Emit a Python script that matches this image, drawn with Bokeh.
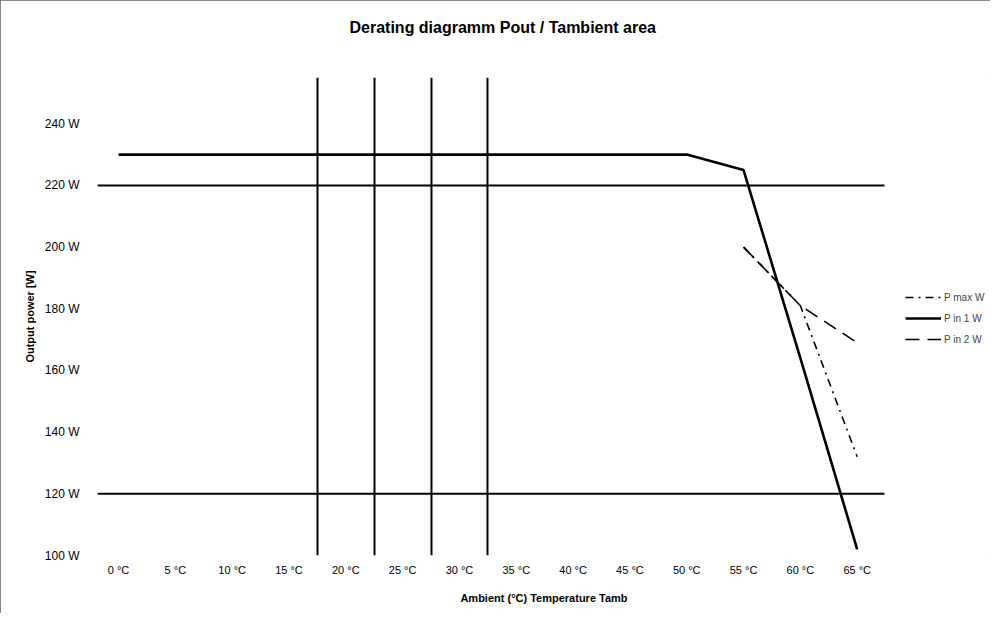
from bokeh.plotting import figure
from bokeh.models import Range1d, FixedTicker, Legend, LegendItem, Title
from bokeh.embed import file_html
from bokeh.resources import INLINE

# ---- data ----
temps = [0, 5, 10, 15, 20, 25, 30, 35, 40, 45, 50, 55, 60, 65]
temp_labels = ["0 °C", "5 °C", "10 °C", "15 °C", "20 °C", "25 °C", "30 °C",
               "35 °C", "40 °C", "45 °C", "50 °C", "55 °C", "60 °C", "65 °C"]
p_main = [230, 230, 230, 230, 230, 230, 230, 230, 230, 230, 230, 225, 164, 102]
temps_derate = [55, 60, 65]
p_derate_a = [200, 181, 132]
p_derate_b = [200, 181, 169]
limit_levels = [220, 120]
marker_temps = [17.5, 22.5, 27.5, 32.5]
power_ticks = [100, 120, 140, 160, 180, 200, 220, 240]
power_labels = ["100 W", "120 W", "140 W", "160 W", "180 W", "200 W", "220 W", "240 W"]

title_text = "Derating diagramm Pout / Tambient area"
x_title = "Ambient (°C) Temperature Tamb"
y_title = "Output power [W]"
series_names = ["P max W", "P in 1 W", "P in 2 W"]

# plot-area extent in data units (the frame continues right to hold the legend)
X_MIN, X_MAX, X_FRAME_END = -1.85, 67.4, 76.73

FONT = "Liberation Sans"

p = figure(width=990, height=613, output_backend="svg", toolbar_location=None,
           x_range=Range1d(X_MIN, X_FRAME_END), y_range=Range1d(100, 255),
           min_border_left=97, min_border_right=0, min_border_top=77,
           min_border_bottom=58)
p.styles = {"outline": "1px solid #606060", "outline-offset": "-1px"}
p.outline_line_color = None
p.grid.visible = False
p.background_fill_color = "white"
p.border_fill_color = "white"

# spacer panel between frame and title, then the title itself
p.add_layout(Title(text=" ", text_font=FONT, text_font_size="15px", standoff=23), "above")
p.add_layout(Title(text=title_text, align="left", offset=252, standoff=0,
                   text_font=FONT, text_font_size="16px", text_font_style="bold",
                   text_color="black"), "above")

for ax in (p.xaxis[0], p.yaxis[0]):
    ax.axis_line_color = None
    ax.major_tick_line_color = None
    ax.minor_tick_line_color = None
    ax.major_label_text_font = FONT
    ax.major_label_text_color = "black"
    ax.axis_label_text_font = FONT
    ax.axis_label_text_font_size = "11px"
    ax.axis_label_text_font_style = "bold"
    ax.axis_label_text_color = "black"

p.xaxis.ticker = FixedTicker(ticks=temps)
p.xaxis.major_label_overrides = {t: l for t, l in zip(temps, temp_labels)}
p.xaxis.major_label_text_font_size = "11px"
p.xaxis.major_label_standoff = 2
p.xaxis.axis_label = x_title
p.xaxis.axis_label_standoff = 13

p.yaxis.ticker = FixedTicker(ticks=power_ticks)
p.yaxis.major_label_overrides = {t: l for t, l in zip(power_ticks, power_labels)}
p.yaxis.major_label_text_font_size = "12px"
p.yaxis.major_label_standoff = 12
p.yaxis.axis_label = y_title
p.yaxis.axis_label_standoff = 6

# reference lines
p.segment(x0=X_MIN, x1=X_MAX, y0=limit_levels, y1=limit_levels,
          line_color="black", line_width=2)
p.vspan(x=marker_temps, line_color="black", line_width=2)

# series
r_a = p.line(temps_derate, p_derate_a, line_color="black", line_width=1.6,
             line_dash="8 5 2 5")
r_b = p.line(temps_derate, p_derate_b, line_color="black", line_width=1.6,
             line_dash="14 8")
r_main = p.line(temps, p_main, line_color="black", line_width=2.6)

legend = Legend(items=[LegendItem(label=series_names[0], renderers=[r_a]),
                       LegendItem(label=series_names[1], renderers=[r_main]),
                       LegendItem(label=series_names[2], renderers=[r_b])],
                location=(808, 206), margin=0, border_line_color=None,
                background_fill_alpha=0, label_text_font=FONT,
                label_text_font_size="10px", glyph_width=36, spacing=1,
                padding=10, label_standoff=3, label_height=20, glyph_height=20)
p.add_layout(legend)

open("out.html", "w").write(file_html(p, INLINE))
